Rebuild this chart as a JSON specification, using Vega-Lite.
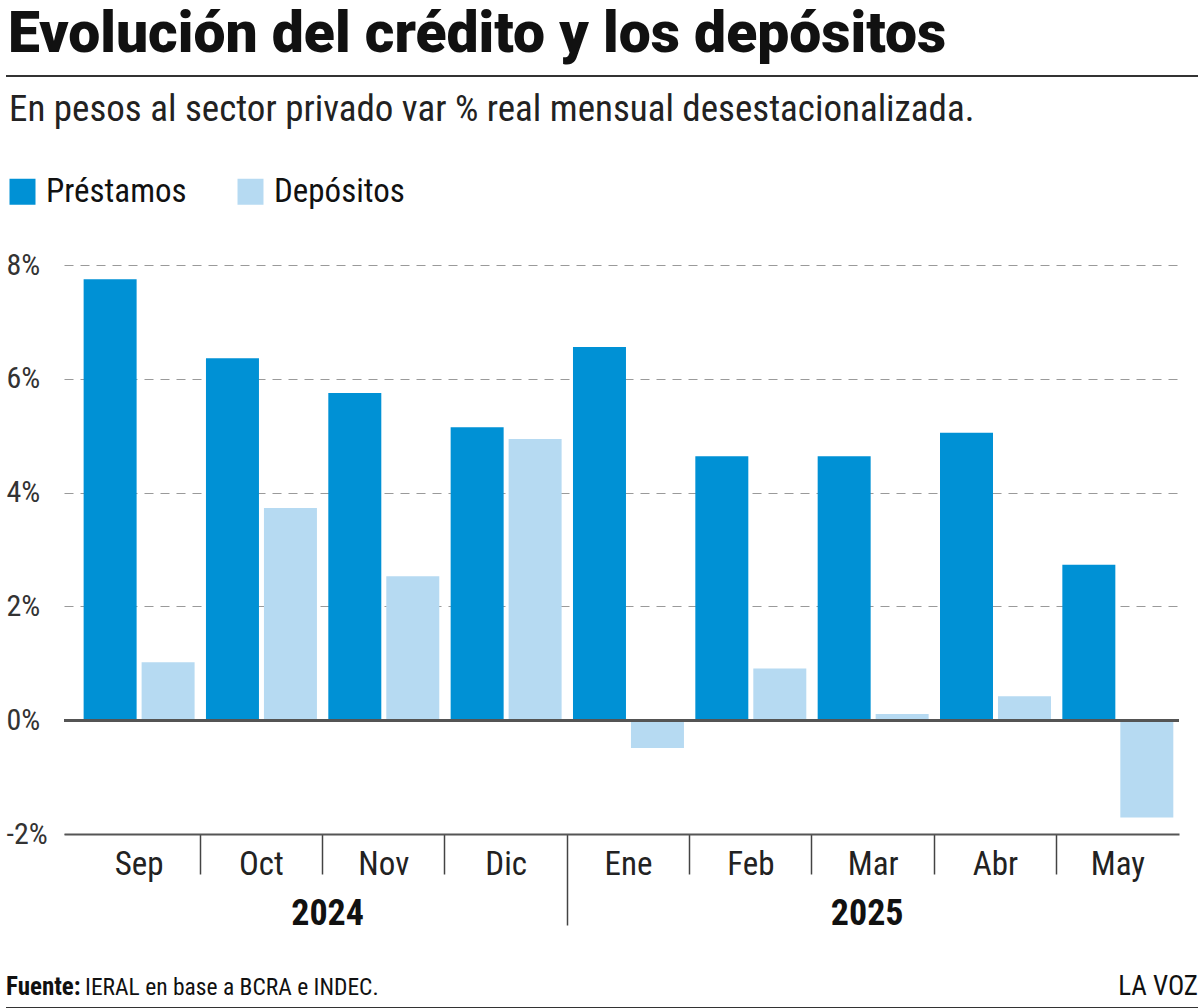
{
  "$schema": "https://vega.github.io/schema/vega-lite/v6.json",
  "padding": {"left": 5, "right": 3, "top": 6, "bottom": 0},
  "background": "white",
  "config": {
    "font": "Liberation Sans Narrow, Roboto Condensed, Roboto",
    "view": {"stroke": null}
  },
  "title": {
    "text": "Evolución del crédito y los depósitos",
    "anchor": "start",
    "font": "Roboto",
    "fontSize": 57,
    "fontWeight": 900,
    "color": "#111111",
    "offset": 11,
    "dx": 3
  },
  "spacing": 0,
  "resolve": {"legend": {"color": "independent"}},
  "vconcat": [
    {
      "width": 1115,
      "height": 15,
      "data": {"values": [{"linea": "superior"}]},
      "mark": {"type": "rule", "color": "#333333", "strokeWidth": 2},
      "encoding": {
        "x": {"datum": 0, "type": "quantitative", "scale": {"domain": [0, 1], "range": [-58, 1134], "nice": false}, "axis": null},
        "x2": {"datum": 1},
        "y": {"datum": 1, "type": "quantitative", "scale": {"domain": [0, 1]}, "axis": null}
      }
    },
    {
      "width": 1115,
      "height": 569,
      "data": {
        "values": [
          {"mes": "Sep", "anio": "2024", "serie": "Préstamos", "valor": 7.75},
          {"mes": "Sep", "anio": "2024", "serie": "Depósitos", "valor": 1.02},
          {"mes": "Oct", "anio": "2024", "serie": "Préstamos", "valor": 6.36},
          {"mes": "Oct", "anio": "2024", "serie": "Depósitos", "valor": 3.73},
          {"mes": "Nov", "anio": "2024", "serie": "Préstamos", "valor": 5.75},
          {"mes": "Nov", "anio": "2024", "serie": "Depósitos", "valor": 2.53},
          {"mes": "Dic", "anio": "2024", "serie": "Préstamos", "valor": 5.15},
          {"mes": "Dic", "anio": "2024", "serie": "Depósitos", "valor": 4.94},
          {"mes": "Ene", "anio": "2025", "serie": "Préstamos", "valor": 6.56},
          {"mes": "Ene", "anio": "2025", "serie": "Depósitos", "valor": -0.49},
          {"mes": "Feb", "anio": "2025", "serie": "Préstamos", "valor": 4.64},
          {"mes": "Feb", "anio": "2025", "serie": "Depósitos", "valor": 0.91},
          {"mes": "Mar", "anio": "2025", "serie": "Préstamos", "valor": 4.64},
          {"mes": "Mar", "anio": "2025", "serie": "Depósitos", "valor": 0.11},
          {"mes": "Abr", "anio": "2025", "serie": "Préstamos", "valor": 5.05},
          {"mes": "Abr", "anio": "2025", "serie": "Depósitos", "valor": 0.42},
          {"mes": "May", "anio": "2025", "serie": "Préstamos", "valor": 2.73},
          {"mes": "May", "anio": "2025", "serie": "Depósitos", "valor": -1.71}
        ]
      },
      "title": {
        "text": "En pesos al sector privado var % real mensual desestacionalizada.",
        "anchor": "start",
        "fontSize": 37,
        "fontWeight": "normal",
        "color": "#222222",
        "offset": 46,
        "dx": 3
      },
      "layer": [
        {
          "mark": {"type": "bar"},
          "encoding": {
            "x": {
              "field": "mes",
              "type": "nominal",
              "sort": ["Sep", "Oct", "Nov", "Dic", "Ene", "Feb", "Mar", "Abr", "May"],
              "scale": {"paddingInner": 0, "paddingOuter": 0.057, "align": 1},
              "title": null,
              "axis": {
                "bandPosition": 0,
                "domainColor": "#555555",
                "domainWidth": 2,
                "ticks": true,
                "tickColor": "#444444",
                "tickWidth": 1.5,
                "tickSize": {"condition": {"test": "datum.value === 'Ene'", "value": 91}, "value": 40},
                "tickOpacity": {"condition": {"test": "datum.value === 'Sep'", "value": 0}, "value": 1},
                "labelPadding": {"condition": {"test": "datum.value === 'Ene'", "value": -77}, "value": -26},
                "labelFontSize": 33,
                "labelColor": "#222222",
                "labelAngle": 0,
                "grid": false
              }
            },
            "xOffset": {
              "field": "serie",
              "type": "nominal",
              "sort": ["Préstamos", "Depósitos"],
              "scale": {"paddingInner": 0.086, "paddingOuter": 0.098}
            },
            "y": {
              "field": "valor",
              "type": "quantitative",
              "scale": {"domain": [-2, 8], "nice": false},
              "title": null,
              "axis": {
                "values": [-2, 0, 2, 4, 6, 8],
                "labelExpr": "datum.value + '%'",
                "grid": true,
                "gridDash": [9, 7],
                "gridColor": "#9a9a9a",
                "gridWidth": 1.2,
                "ticks": false,
                "domain": false,
                "labelFontSize": 30,
                "labelColor": "#333333",
                "labelAlign": "left",
                "labelPadding": 58
              }
            },
            "color": {
              "field": "serie",
              "type": "nominal",
              "scale": {"domain": ["Préstamos", "Depósitos"], "range": ["#0091d5", "#b6daf2"]},
              "legend": {
                "title": null,
                "orient": "none",
                "legendX": -58,
                "legendY": -90,
                "direction": "horizontal",
                "symbolType": "square",
                "symbolSize": 676,
                "symbolStrokeWidth": 0,
                "labelFontSize": 33,
                "labelColor": "#111111",
                "labelOffset": 7,
                "columnPadding": 47
              }
            }
          }
        },
        {
          "mark": {"type": "rule", "color": "#555555", "strokeWidth": 2},
          "encoding": {"y": {"datum": 0, "type": "quantitative"}}
        },
        {
          "data": {"values": [{"anio": "2024", "mes": "Nov"}]},
          "mark": {"type": "text", "fontSize": 36, "fontWeight": "bold", "color": "#111111", "baseline": "alphabetic", "dy": 91, "dx": 5, "align": "center"},
          "encoding": {
            "x": {"field": "mes", "type": "nominal", "sort": ["Sep", "Oct", "Nov", "Dic", "Ene", "Feb", "Mar", "Abr", "May"], "bandPosition": 0},
            "y": {"datum": -2, "type": "quantitative"},
            "text": {"field": "anio"}
          }
        },
        {
          "data": {"values": [{"anio": "2025", "mes": "Mar"}]},
          "mark": {"type": "text", "fontSize": 36, "fontWeight": "bold", "color": "#111111", "baseline": "alphabetic", "dy": 91, "dx": -6, "align": "center"},
          "encoding": {
            "x": {"field": "mes", "type": "nominal", "sort": ["Sep", "Oct", "Nov", "Dic", "Ene", "Feb", "Mar", "Abr", "May"], "bandPosition": 0.5},
            "y": {"datum": -2, "type": "quantitative"},
            "text": {"field": "anio"}
          }
        }
      ]
    },
    {
      "width": 1115,
      "height": 76,
      "layer": [
        {
          "data": {"values": [{"texto": "Fuente:"}]},
          "mark": {"type": "text", "align": "left", "baseline": "alphabetic", "fontSize": 25, "fontWeight": "bold", "color": "#111111"},
          "encoding": {
            "x": {"datum": 0, "type": "quantitative", "scale": {"domain": [0, 1], "range": [-58, 1134], "nice": false}, "axis": null},
            "y": {"datum": 0.17, "type": "quantitative", "scale": {"domain": [0, 1]}, "axis": null},
            "text": {"field": "texto"}
          }
        },
        {
          "data": {"values": [{"texto": "IERAL en base a BCRA e INDEC."}]},
          "mark": {"type": "text", "align": "left", "baseline": "alphabetic", "fontSize": 23.5, "dx": 79, "color": "#111111"},
          "encoding": {
            "x": {"datum": 0, "type": "quantitative"},
            "y": {"datum": 0.17, "type": "quantitative"},
            "text": {"field": "texto"}
          }
        },
        {
          "data": {"values": [{"texto": "LA VOZ"}]},
          "mark": {"type": "text", "align": "right", "baseline": "alphabetic", "fontSize": 27, "color": "#111111"},
          "encoding": {
            "x": {"datum": 1, "type": "quantitative"},
            "y": {"datum": 0.17, "type": "quantitative"},
            "text": {"field": "texto"}
          }
        },
        {
          "data": {"values": [{"linea": "inferior"}]},
          "mark": {"type": "rule", "color": "#333333", "strokeWidth": 2},
          "encoding": {
            "x": {"datum": 0, "type": "quantitative"},
            "x2": {"datum": 1},
            "y": {"datum": 0, "type": "quantitative"}
          }
        }
      ]
    }
  ]
}
